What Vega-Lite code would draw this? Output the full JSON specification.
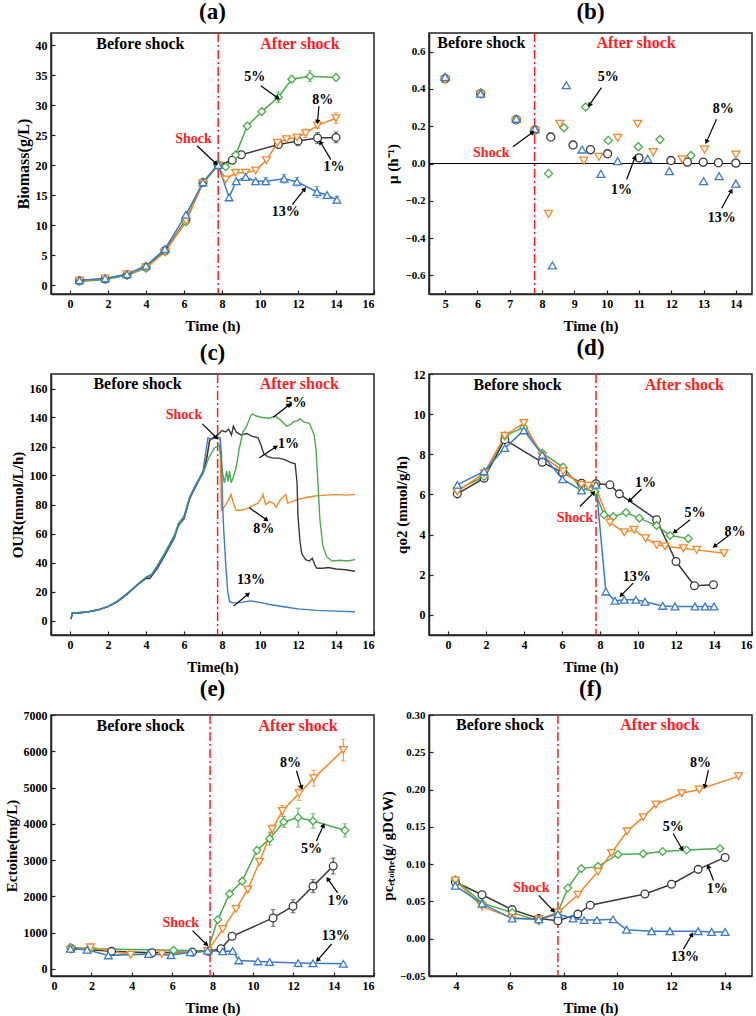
{
"$schema": "https://vega.github.io/schema/vega-lite/v6.json",
"padding": {"left": 3, "top": 0, "right": 2, "bottom": 2},
"background": "white",
"bounds": "flush",
"columns": 2,
"spacing": {"row": 80, "column": 55},
"datasets": {
"a": [
{"s":"1%","x":0.5,"y":0.7},{"s":"1%","x":1.85,"y":1.0},{"s":"1%","x":3,"y":1.7},{"s":"1%","x":4,"y":3.0},{"s":"1%","x":5,"y":5.7},{"s":"1%","x":6.1,"y":10.8},{"s":"1%","x":7,"y":17.1},{"s":"1%","x":7.8,"y":20.0},{"s":"1%","x":8.54,"y":20.8},{"s":"1%","x":9.02,"y":21.7},{"s":"1%","x":10.97,"y":23.4,"e":0.5},{"s":"1%","x":12.0,"y":24.0,"e":0.8},{"s":"1%","x":13.03,"y":24.5,"e":0.9},{"s":"1%","x":14,"y":24.6,"e":0.9},
{"s":"5%","x":0.5,"y":0.6},{"s":"5%","x":1.85,"y":0.9},{"s":"5%","x":3,"y":1.6},{"s":"5%","x":4,"y":2.8},{"s":"5%","x":5,"y":5.6},{"s":"5%","x":6.1,"y":10.5},{"s":"5%","x":7,"y":17.2},{"s":"5%","x":7.8,"y":20.1},{"s":"5%","x":8.19,"y":19.7},{"s":"5%","x":8.72,"y":21.7},{"s":"5%","x":9.33,"y":26.5},{"s":"5%","x":10.09,"y":28.9},{"s":"5%","x":10.97,"y":31.3,"e":0.9},{"s":"5%","x":11.67,"y":34.3,"e":0.5},{"s":"5%","x":12.63,"y":34.8,"e":0.9},{"s":"5%","x":14,"y":34.6,"e":0.4},
{"s":"8%","x":0.5,"y":0.7},{"s":"8%","x":1.85,"y":1.1},{"s":"8%","x":3,"y":1.8},{"s":"8%","x":4,"y":2.9},{"s":"8%","x":5,"y":5.5},{"s":"8%","x":6.1,"y":10.7},{"s":"8%","x":7,"y":17.0},{"s":"8%","x":7.8,"y":19.9},{"s":"8%","x":8.19,"y":17.6},{"s":"8%","x":8.72,"y":18.7},{"s":"8%","x":9.24,"y":18.7},{"s":"8%","x":9.77,"y":19.1},{"s":"8%","x":10.34,"y":20.8},{"s":"8%","x":10.92,"y":23.7},{"s":"8%","x":11.4,"y":24.3},{"s":"8%","x":11.95,"y":24.6},{"s":"8%","x":12.4,"y":25.3,"e":0.7},{"s":"8%","x":13.03,"y":26.6,"e":0.5},{"s":"8%","x":14,"y":27.8,"e":0.9},
{"s":"13%","x":0.5,"y":0.8},{"s":"13%","x":1.85,"y":1.1},{"s":"13%","x":3,"y":1.8},{"s":"13%","x":4,"y":3.2},{"s":"13%","x":5,"y":6.0},{"s":"13%","x":6.1,"y":11.7},{"s":"13%","x":7,"y":17.1},{"s":"13%","x":7.8,"y":20.0},{"s":"13%","x":8.37,"y":14.6},{"s":"13%","x":8.75,"y":17.3},{"s":"13%","x":9.25,"y":18.0},{"s":"13%","x":9.77,"y":17.3},{"s":"13%","x":10.3,"y":17.3,"e":0.6},{"s":"13%","x":11.27,"y":17.7,"e":0.7},{"s":"13%","x":11.95,"y":17.2,"e":0.7},{"s":"13%","x":13.0,"y":15.5,"e":0.9},{"s":"13%","x":13.53,"y":15.0},{"s":"13%","x":14.05,"y":14.2,"e":0.6}
],
"a_t": [
{"x":3.7,"y":40.2,"t":"Before shock","r":"before"},{"x":12.1,"y":40.2,"t":"After shock","r":"after"},{"x":6.5,"y":24.4,"t":"Shock","r":"shock"},{"x":9.72,"y":34.7,"t":"5%","r":"pct"},{"x":13.3,"y":30.8,"t":"8%","r":"pct"},{"x":13.9,"y":19.6,"t":"1%","r":"pct"},{"x":11.36,"y":12.2,"t":"13%","r":"pct"}
],
"a_a": [
{"x":6.69,"y":23.2,"x2":7.66,"y2":20.3,"ang":133},{"x":10.04,"y":33.2,"x2":10.92,"y2":31.2,"ang":125},{"x":13.1,"y":29.8,"x2":13.03,"y2":27.3,"ang":186},{"x":13.73,"y":20.9,"x2":13.2,"y2":23.7,"ang":-31},{"x":11.7,"y":13.4,"x2":12.32,"y2":15.9,"ang":38}
],
"b": [
{"s":"1%","x":5,"y":0.455},{"s":"1%","x":6.1,"y":0.375},{"s":"1%","x":7.2,"y":0.235},{"s":"1%","x":7.78,"y":0.18},{"s":"1%","x":8.27,"y":0.142},{"s":"1%","x":8.96,"y":0.099},{"s":"1%","x":9.5,"y":0.074},{"s":"1%","x":10.03,"y":0.052},{"s":"1%","x":11.0,"y":0.03},{"s":"1%","x":11.99,"y":0.016},{"s":"1%","x":12.5,"y":0.007},{"s":"1%","x":12.99,"y":0.007},{"s":"1%","x":13.46,"y":0.004},{"s":"1%","x":14.0,"y":0.002},
{"s":"5%","x":5,"y":0.455},{"s":"5%","x":6.1,"y":0.38},{"s":"5%","x":7.2,"y":0.235},{"s":"5%","x":7.78,"y":0.18},{"s":"5%","x":8.2,"y":-0.054},{"s":"5%","x":8.68,"y":0.192},{"s":"5%","x":9.35,"y":0.303},{"s":"5%","x":10.05,"y":0.124},{"s":"5%","x":10.98,"y":0.09},{"s":"5%","x":11.65,"y":0.129},{"s":"5%","x":12.61,"y":0.043},
{"s":"8%","x":5,"y":0.45},{"s":"8%","x":6.1,"y":0.37},{"s":"8%","x":7.2,"y":0.23},{"s":"8%","x":7.78,"y":0.175},{"s":"8%","x":8.2,"y":-0.27},{"s":"8%","x":8.55,"y":0.213},{"s":"8%","x":9.29,"y":0.015},{"s":"8%","x":9.76,"y":0.036},{"s":"8%","x":10.34,"y":0.138},{"s":"8%","x":10.96,"y":0.213},{"s":"8%","x":11.44,"y":0.061},{"s":"8%","x":12.34,"y":0.022},{"s":"8%","x":13.03,"y":0.075},{"s":"8%","x":14.0,"y":0.048},
{"s":"13%","x":5,"y":0.465},{"s":"13%","x":6.1,"y":0.375},{"s":"13%","x":7.2,"y":0.24},{"s":"13%","x":7.78,"y":0.185},{"s":"13%","x":8.32,"y":-0.547},{"s":"13%","x":8.75,"y":0.42},{"s":"13%","x":9.24,"y":0.075},{"s":"13%","x":9.82,"y":-0.056},{"s":"13%","x":10.34,"y":0.013},{"s":"13%","x":11.27,"y":0.025},{"s":"13%","x":11.94,"y":-0.041},{"s":"13%","x":13.0,"y":-0.095},{"s":"13%","x":13.48,"y":-0.068},{"s":"13%","x":14.0,"y":-0.108}
],
"b_t": [
{"x":6.12,"y":0.645,"t":"Before shock","r":"before"},{"x":10.91,"y":0.645,"t":"After shock","r":"after"},{"x":6.43,"y":0.057,"t":"Shock","r":"shock"},{"x":10.05,"y":0.465,"t":"5%","r":"pct"},{"x":13.61,"y":0.29,"t":"8%","r":"pct"},{"x":10.46,"y":-0.14,"t":"1%","r":"pct"},{"x":13.56,"y":-0.29,"t":"13%","r":"pct"}
],
"b_a": [
{"x":7.1,"y":0.09,"x2":7.69,"y2":0.165,"ang":54},{"x":9.84,"y":0.407,"x2":9.48,"y2":0.317,"ang":215},{"x":13.4,"y":0.237,"x2":13.1,"y2":0.12,"ang":205},{"x":10.62,"y":-0.086,"x2":10.87,"y2":0.03,"ang":21},{"x":13.56,"y":-0.24,"x2":13.85,"y2":-0.149,"ang":29}
],
"c": [
{"s":"8%","x":0.05,"y":1},{"s":"8%","x":0.12,"y":5},{"s":"8%","x":0.5,"y":5.5},{"s":"8%","x":1.0,"y":6.2},{"s":"8%","x":1.5,"y":7.5},{"s":"8%","x":2.0,"y":9.5},{"s":"8%","x":2.5,"y":13},{"s":"8%","x":3.0,"y":18.5},{"s":"8%","x":3.5,"y":24},{"s":"8%","x":4.0,"y":29.5},{"s":"8%","x":4.3,"y":31},{"s":"8%","x":4.6,"y":37},{"s":"8%","x":5.0,"y":46},{"s":"8%","x":5.5,"y":58},{"s":"8%","x":5.7,"y":65},{"s":"8%","x":6.0,"y":71},{"s":"8%","x":6.3,"y":85},{"s":"8%","x":6.6,"y":93},{"s":"8%","x":7.0,"y":102},{"s":"8%","x":7.2,"y":113},{"s":"8%","x":7.35,"y":125},{"s":"8%","x":7.6,"y":126},{"s":"8%","x":7.9,"y":125},{"s":"8%","x":7.97,"y":76},{"s":"8%","x":8.1,"y":78},{"s":"8%","x":8.3,"y":82},{"s":"8%","x":8.47,"y":87},{"s":"8%","x":8.6,"y":81},{"s":"8%","x":8.75,"y":76},{"s":"8%","x":9.0,"y":76},{"s":"8%","x":9.3,"y":77},{"s":"8%","x":9.6,"y":79},{"s":"8%","x":9.9,"y":81},{"s":"8%","x":10.1,"y":85},{"s":"8%","x":10.15,"y":87},{"s":"8%","x":10.3,"y":80},{"s":"8%","x":10.5,"y":82},{"s":"8%","x":10.7,"y":81},{"s":"8%","x":10.85,"y":78},{"s":"8%","x":11.0,"y":82},{"s":"8%","x":11.2,"y":85},{"s":"8%","x":11.35,"y":87},{"s":"8%","x":11.45,"y":81},{"s":"8%","x":11.7,"y":82},{"s":"8%","x":12.0,"y":83.5},{"s":"8%","x":12.5,"y":85},{"s":"8%","x":13.0,"y":86},{"s":"8%","x":13.5,"y":86.5},{"s":"8%","x":14.0,"y":87},{"s":"8%","x":14.5,"y":86.5},{"s":"8%","x":15.0,"y":87},
{"s":"1%","x":0.05,"y":1},{"s":"1%","x":0.12,"y":5},{"s":"1%","x":0.5,"y":5.2},{"s":"1%","x":1.0,"y":6},{"s":"1%","x":1.5,"y":7.3},{"s":"1%","x":2.0,"y":9.5},{"s":"1%","x":2.5,"y":13},{"s":"1%","x":3.0,"y":18},{"s":"1%","x":3.5,"y":24},{"s":"1%","x":4.0,"y":29},{"s":"1%","x":4.2,"y":29},{"s":"1%","x":4.6,"y":36},{"s":"1%","x":5.0,"y":45},{"s":"1%","x":5.5,"y":57},{"s":"1%","x":5.7,"y":66},{"s":"1%","x":5.85,"y":68},{"s":"1%","x":6.0,"y":70},{"s":"1%","x":6.3,"y":84},{"s":"1%","x":6.6,"y":92},{"s":"1%","x":7.0,"y":102},{"s":"1%","x":7.2,"y":112},{"s":"1%","x":7.35,"y":124},{"s":"1%","x":7.5,"y":126},{"s":"1%","x":7.7,"y":127},{"s":"1%","x":7.85,"y":129},{"s":"1%","x":8.0,"y":131},{"s":"1%","x":8.2,"y":130},{"s":"1%","x":8.35,"y":132},{"s":"1%","x":8.5,"y":128},{"s":"1%","x":8.6,"y":134},{"s":"1%","x":8.75,"y":130},{"s":"1%","x":9.0,"y":128},{"s":"1%","x":9.3,"y":129},{"s":"1%","x":9.6,"y":127},{"s":"1%","x":9.9,"y":126},{"s":"1%","x":10.05,"y":121},{"s":"1%","x":10.2,"y":115},{"s":"1%","x":10.4,"y":113},{"s":"1%","x":10.7,"y":112},{"s":"1%","x":11.0,"y":112},{"s":"1%","x":11.3,"y":111},{"s":"1%","x":11.6,"y":109},{"s":"1%","x":11.85,"y":108},{"s":"1%","x":11.95,"y":95},{"s":"1%","x":12.0,"y":72},{"s":"1%","x":12.1,"y":55},{"s":"1%","x":12.2,"y":46},{"s":"1%","x":12.4,"y":42},{"s":"1%","x":12.6,"y":41},{"s":"1%","x":12.75,"y":43},{"s":"1%","x":12.9,"y":38},{"s":"1%","x":13.0,"y":36},{"s":"1%","x":13.3,"y":36},{"s":"1%","x":13.6,"y":36.5},{"s":"1%","x":14.0,"y":35.5},{"s":"1%","x":14.5,"y":35},{"s":"1%","x":15.0,"y":34},
{"s":"5%","x":0.05,"y":1},{"s":"5%","x":0.12,"y":5},{"s":"5%","x":0.5,"y":5.5},{"s":"5%","x":1.0,"y":6.2},{"s":"5%","x":1.5,"y":7.6},{"s":"5%","x":2.0,"y":9.8},{"s":"5%","x":2.5,"y":13.5},{"s":"5%","x":3.0,"y":18.5},{"s":"5%","x":3.5,"y":24.5},{"s":"5%","x":4.0,"y":30},{"s":"5%","x":4.3,"y":32},{"s":"5%","x":4.6,"y":38},{"s":"5%","x":5.0,"y":47},{"s":"5%","x":5.5,"y":59},{"s":"5%","x":5.7,"y":67},{"s":"5%","x":6.0,"y":72},{"s":"5%","x":6.3,"y":85},{"s":"5%","x":6.6,"y":93},{"s":"5%","x":7.0,"y":101},{"s":"5%","x":7.3,"y":112},{"s":"5%","x":7.6,"y":119},{"s":"5%","x":7.75,"y":120},{"s":"5%","x":7.85,"y":121},{"s":"5%","x":7.95,"y":112},{"s":"5%","x":8.05,"y":100},{"s":"5%","x":8.12,"y":95},{"s":"5%","x":8.25,"y":103},{"s":"5%","x":8.32,"y":96},{"s":"5%","x":8.4,"y":103},{"s":"5%","x":8.48,"y":95},{"s":"5%","x":8.6,"y":99},{"s":"5%","x":8.75,"y":106},{"s":"5%","x":8.9,"y":118},{"s":"5%","x":9.1,"y":130},{"s":"5%","x":9.3,"y":134},{"s":"5%","x":9.5,"y":141},{"s":"5%","x":9.6,"y":142.5},{"s":"5%","x":9.8,"y":141},{"s":"5%","x":10.1,"y":140},{"s":"5%","x":10.5,"y":139.5},{"s":"5%","x":10.8,"y":141},{"s":"5%","x":11.1,"y":138},{"s":"5%","x":11.4,"y":134},{"s":"5%","x":11.6,"y":135},{"s":"5%","x":11.75,"y":137},{"s":"5%","x":12.0,"y":138},{"s":"5%","x":12.1,"y":139},{"s":"5%","x":12.3,"y":137},{"s":"5%","x":12.6,"y":136},{"s":"5%","x":12.85,"y":128},{"s":"5%","x":12.95,"y":118},{"s":"5%","x":13.05,"y":95},{"s":"5%","x":13.15,"y":70},{"s":"5%","x":13.3,"y":52},{"s":"5%","x":13.5,"y":44},{"s":"5%","x":13.8,"y":41},{"s":"5%","x":14.2,"y":41.5},{"s":"5%","x":14.6,"y":41},{"s":"5%","x":15.0,"y":42},
{"s":"13%","x":0.05,"y":1},{"s":"13%","x":0.12,"y":5},{"s":"13%","x":0.5,"y":5.3},{"s":"13%","x":1.0,"y":6},{"s":"13%","x":1.5,"y":7.4},{"s":"13%","x":2.0,"y":9.5},{"s":"13%","x":2.5,"y":13},{"s":"13%","x":3.0,"y":18.5},{"s":"13%","x":3.5,"y":24},{"s":"13%","x":4.0,"y":29.5},{"s":"13%","x":4.3,"y":31.5},{"s":"13%","x":4.6,"y":37},{"s":"13%","x":5.0,"y":46},{"s":"13%","x":5.5,"y":58},{"s":"13%","x":5.7,"y":65},{"s":"13%","x":6.0,"y":71},{"s":"13%","x":6.3,"y":85},{"s":"13%","x":6.6,"y":93},{"s":"13%","x":7.0,"y":103},{"s":"13%","x":7.26,"y":126},{"s":"13%","x":7.5,"y":125},{"s":"13%","x":7.6,"y":127},{"s":"13%","x":7.9,"y":126},{"s":"13%","x":7.97,"y":115},{"s":"13%","x":8.03,"y":80},{"s":"13%","x":8.1,"y":60},{"s":"13%","x":8.2,"y":38},{"s":"13%","x":8.3,"y":20},{"s":"13%","x":8.4,"y":13},{"s":"13%","x":8.6,"y":12},{"s":"13%","x":9.0,"y":12.5},{"s":"13%","x":9.5,"y":13.5},{"s":"13%","x":10.0,"y":12.5},{"s":"13%","x":10.5,"y":11},{"s":"13%","x":11.0,"y":10},{"s":"13%","x":11.5,"y":9},{"s":"13%","x":12.0,"y":8},{"s":"13%","x":12.5,"y":7.5},{"s":"13%","x":13.0,"y":7},{"s":"13%","x":14.0,"y":6.5},{"s":"13%","x":15.0,"y":6}
],
"c_t": [
{"x":3.55,"y":163.4,"t":"Before shock","r":"before"},{"x":12.07,"y":163.4,"t":"After shock","r":"after"},{"x":6.0,"y":142,"t":"Shock","r":"shock"},{"x":11.9,"y":150,"t":"5%","r":"pct"},{"x":11.5,"y":121.4,"t":"1%","r":"pct"},{"x":10.2,"y":62.8,"t":"8%","r":"pct"},{"x":9.53,"y":27.6,"t":"13%","r":"pct"}
],
"c_a": [
{"x":6.97,"y":135.6,"x2":7.68,"y2":126.4,"ang":135},{"x":10.7,"y":140.2,"x2":11.51,"y2":148.5,"ang":52},{"x":9.97,"y":112.2,"x2":10.81,"y2":119.5,"ang":56},{"x":9.44,"y":77.7,"x2":10.32,"y2":69.7,"ang":125},{"x":8.61,"y":9.9,"x2":9.35,"y2":17.9,"ang":50}
],
"d": [
{"s":"1%","x":0.49,"y":6.03},{"s":"1%","x":1.9,"y":6.81},{"s":"1%","x":2.99,"y":8.73},{"s":"1%","x":4.96,"y":7.6},{"s":"1%","x":6.03,"y":7.1},{"s":"1%","x":7.03,"y":6.56},{"s":"1%","x":7.79,"y":6.53},{"s":"1%","x":8.52,"y":6.48},{"s":"1%","x":9.02,"y":6.03},{"s":"1%","x":10.98,"y":4.74},{"s":"1%","x":12.0,"y":2.66},{"s":"1%","x":12.97,"y":1.45},{"s":"1%","x":13.97,"y":1.5},
{"s":"5%","x":0.49,"y":6.23},{"s":"5%","x":1.9,"y":6.9},{"s":"5%","x":2.99,"y":8.92},{"s":"5%","x":3.99,"y":9.34},{"s":"5%","x":4.96,"y":8.06},{"s":"5%","x":6.06,"y":7.36},{"s":"5%","x":7.03,"y":6.3},{"s":"5%","x":7.73,"y":6.15},{"s":"5%","x":8.21,"y":4.99},{"s":"5%","x":8.7,"y":4.9},{"s":"5%","x":9.37,"y":5.1},{"s":"5%","x":10.07,"y":4.82},{"s":"5%","x":10.98,"y":4.45},{"s":"5%","x":11.69,"y":3.96},{"s":"5%","x":12.65,"y":3.8},
{"s":"8%","x":0.49,"y":6.15},{"s":"8%","x":1.9,"y":7.06},{"s":"8%","x":2.99,"y":8.92},{"s":"8%","x":3.99,"y":9.56},{"s":"8%","x":4.96,"y":7.93},{"s":"8%","x":6.06,"y":7.15},{"s":"8%","x":7.03,"y":6.48},{"s":"8%","x":7.38,"y":6.43},{"s":"8%","x":7.73,"y":6.43},{"s":"8%","x":8.52,"y":4.6},{"s":"8%","x":9.28,"y":4.12},{"s":"8%","x":9.79,"y":4.24},{"s":"8%","x":10.4,"y":3.82},{"s":"8%","x":10.98,"y":3.49},{"s":"8%","x":11.42,"y":3.41},{"s":"8%","x":12.39,"y":3.32},{"s":"8%","x":13.09,"y":3.24},{"s":"8%","x":14.53,"y":3.07},
{"s":"13%","x":0.49,"y":6.48},{"s":"13%","x":1.9,"y":7.15},{"s":"13%","x":2.99,"y":8.31},{"s":"13%","x":3.99,"y":9.19},{"s":"13%","x":4.96,"y":7.98},{"s":"13%","x":6.03,"y":6.76},{"s":"13%","x":7.03,"y":6.2},{"s":"13%","x":7.79,"y":6.48},{"s":"13%","x":8.31,"y":1.16},{"s":"13%","x":8.79,"y":0.7},{"s":"13%","x":9.28,"y":0.75},{"s":"13%","x":9.89,"y":0.75},{"s":"13%","x":10.37,"y":0.66},{"s":"13%","x":11.3,"y":0.45},{"s":"13%","x":11.95,"y":0.42},{"s":"13%","x":13.0,"y":0.42},{"s":"13%","x":13.53,"y":0.42},{"s":"13%","x":14.0,"y":0.42}
],
"d_t": [
{"x":3.66,"y":11.47,"t":"Before shock","r":"before"},{"x":12.44,"y":11.47,"t":"After shock","r":"after"},{"x":6.68,"y":4.82,"t":"Shock","r":"shock"},{"x":10.4,"y":6.56,"t":"1%","r":"pct"},{"x":13.0,"y":5.1,"t":"5%","r":"pct"},{"x":15.11,"y":4.12,"t":"8%","r":"pct"},{"x":9.93,"y":1.91,"t":"13%","r":"pct"}
],
"d_a": [
{"x":6.94,"y":5.4,"x2":7.64,"y2":6.07,"ang":45},{"x":10.19,"y":6.27,"x2":9.58,"y2":5.71,"ang":226},{"x":12.74,"y":4.74,"x2":11.95,"y2":4.15,"ang":232},{"x":14.76,"y":3.94,"x2":14.06,"y2":3.44,"ang":233},{"x":9.75,"y":1.58,"x2":9.14,"y2":1.0,"ang":225}
],
"e": [
{"s":"1%","x":1,"y":560},{"s":"1%","x":3,"y":480},{"s":"1%","x":5,"y":440},{"s":"1%","x":7,"y":460},{"s":"1%","x":7.8,"y":480},{"s":"1%","x":8.42,"y":553},{"s":"1%","x":8.97,"y":895},{"s":"1%","x":11.0,"y":1402,"e":230},{"s":"1%","x":11.99,"y":1725,"e":180},{"s":"1%","x":12.98,"y":2279,"e":180},{"s":"1%","x":13.98,"y":2832,"e":220},
{"s":"5%","x":0.96,"y":590},{"s":"5%","x":1.96,"y":553},{"s":"5%","x":6.07,"y":507},{"s":"5%","x":7.76,"y":495},{"s":"5%","x":8.26,"y":1356},{"s":"5%","x":8.84,"y":2066},{"s":"5%","x":9.47,"y":2417},{"s":"5%","x":10.2,"y":3266},{"s":"5%","x":10.83,"y":3589,"e":180},{"s":"5%","x":11.53,"y":4050,"e":150},{"s":"5%","x":12.24,"y":4170,"e":260},{"s":"5%","x":12.98,"y":4077,"e":200},{"s":"5%","x":14.56,"y":3819,"e":180},
{"s":"8%","x":0.96,"y":526},{"s":"8%","x":1.96,"y":590},{"s":"8%","x":3.95,"y":387},{"s":"8%","x":5.49,"y":406},{"s":"8%","x":7.76,"y":490},{"s":"8%","x":8.51,"y":1098},{"s":"8%","x":9.17,"y":1651},{"s":"8%","x":9.75,"y":2186},{"s":"8%","x":10.33,"y":2952},{"s":"8%","x":10.96,"y":3847,"e":120},{"s":"8%","x":11.46,"y":4354,"e":150},{"s":"8%","x":12.29,"y":4843,"e":200},{"s":"8%","x":13.02,"y":5258,"e":220},{"s":"8%","x":14.48,"y":6033,"e":300},
{"s":"13%","x":0.96,"y":553},{"s":"13%","x":1.79,"y":526},{"s":"13%","x":2.84,"y":369},{"s":"13%","x":4.83,"y":406},{"s":"13%","x":5.94,"y":375},{"s":"13%","x":6.9,"y":452},{"s":"13%","x":7.76,"y":498},{"s":"13%","x":8.51,"y":480},{"s":"13%","x":9.0,"y":490},{"s":"13%","x":9.3,"y":230},{"s":"13%","x":10.25,"y":203},{"s":"13%","x":10.83,"y":184},{"s":"13%","x":12.24,"y":157},{"s":"13%","x":12.98,"y":150},{"s":"13%","x":14.48,"y":135}
],
"e_t": [
{"x":4.44,"y":6688,"t":"Before shock","r":"before"},{"x":12.24,"y":6688,"t":"After shock","r":"after"},{"x":6.43,"y":1264,"t":"Shock","r":"shock"},{"x":11.86,"y":5673,"t":"8%","r":"pct"},{"x":12.9,"y":3312,"t":"5%","r":"pct"},{"x":14.23,"y":1863,"t":"1%","r":"pct"},{"x":14.11,"y":913,"t":"13%","r":"pct"}
],
"e_a": [
{"x":7.01,"y":1052,"x2":7.68,"y2":683,"ang":135},{"x":12.16,"y":5461,"x2":12.4,"y2":5018,"ang":163},{"x":13.15,"y":3524,"x2":13.48,"y2":3939,"ang":24},{"x":14.2,"y":2094,"x2":13.73,"y2":2463,"ang":-35},{"x":13.9,"y":683,"x2":13.23,"y2":249,"ang":220}
],
"f": [
{"s":"1%","x":3.98,"y":0.076},{"s":"1%","x":4.97,"y":0.059},{"s":"1%","x":6.09,"y":0.039},{"s":"1%","x":7.08,"y":0.027},{"s":"1%","x":7.79,"y":0.024},{"s":"1%","x":8.53,"y":0.033},{"s":"1%","x":8.99,"y":0.045},{"s":"1%","x":11.02,"y":0.06},{"s":"1%","x":12.01,"y":0.073},{"s":"1%","x":13.0,"y":0.093},{"s":"1%","x":14.0,"y":0.109},
{"s":"5%","x":3.98,"y":0.079},{"s":"5%","x":4.97,"y":0.048},{"s":"5%","x":6.09,"y":0.035},{"s":"5%","x":7.08,"y":0.024},{"s":"5%","x":7.79,"y":0.036},{"s":"5%","x":8.16,"y":0.068},{"s":"5%","x":8.66,"y":0.094},{"s":"5%","x":9.28,"y":0.097},{"s":"5%","x":10.02,"y":0.113},{"s":"5%","x":10.96,"y":0.114},{"s":"5%","x":11.68,"y":0.117},{"s":"5%","x":12.57,"y":0.119},{"s":"5%","x":13.81,"y":0.121},
{"s":"8%","x":3.98,"y":0.078},{"s":"8%","x":4.97,"y":0.043},{"s":"8%","x":6.09,"y":0.028},{"s":"8%","x":7.08,"y":0.026},{"s":"8%","x":7.79,"y":0.035},{"s":"8%","x":8.53,"y":0.059},{"s":"8%","x":9.28,"y":0.09},{"s":"8%","x":9.78,"y":0.115},{"s":"8%","x":10.36,"y":0.144},{"s":"8%","x":10.96,"y":0.163},{"s":"8%","x":11.43,"y":0.18},{"s":"8%","x":12.39,"y":0.195},{"s":"8%","x":13.04,"y":0.2},{"s":"8%","x":14.5,"y":0.218},
{"s":"13%","x":3.98,"y":0.071},{"s":"13%","x":4.97,"y":0.047},{"s":"13%","x":6.09,"y":0.027},{"s":"13%","x":7.08,"y":0.026},{"s":"13%","x":7.79,"y":0.033},{"s":"13%","x":8.35,"y":0.027},{"s":"13%","x":8.76,"y":0.025},{"s":"13%","x":9.24,"y":0.025},{"s":"13%","x":9.84,"y":0.026},{"s":"13%","x":10.34,"y":0.012},{"s":"13%","x":11.27,"y":0.01},{"s":"13%","x":11.95,"y":0.01},{"s":"13%","x":13.0,"y":0.01},{"s":"13%","x":13.5,"y":0.009},{"s":"13%","x":14.0,"y":0.009}
],
"f_t": [
{"x":5.64,"y":0.287,"t":"Before shock","r":"before"},{"x":11.58,"y":0.287,"t":"After shock","r":"after"},{"x":6.8,"y":0.068,"t":"Shock","r":"shock"},{"x":13.09,"y":0.236,"t":"8%","r":"pct"},{"x":12.07,"y":0.15,"t":"5%","r":"pct"},{"x":13.71,"y":0.067,"t":"1%","r":"pct"},{"x":12.51,"y":-0.024,"t":"13%","r":"pct"}
],
"f_a": [
{"x":7.08,"y":0.058,"x2":7.6,"y2":0.038,"ang":137},{"x":13.38,"y":0.226,"x2":13.25,"y2":0.205,"ang":192},{"x":12.07,"y":0.141,"x2":12.39,"y2":0.121,"ang":151},{"x":13.57,"y":0.078,"x2":13.38,"y2":0.096,"ang":-21},{"x":12.45,"y":-0.014,"x2":12.76,"y2":0.005,"ang":31}
]
},
"concat": [
{"width": 323, "height": 261, "title": "(a)",
 "layer": [
  {"data": {"values": [{"x": 7.8}]}, "mark": {"type": "rule", "color": "#ff1e1e", "strokeWidth": 1.5, "strokeDash": [9, 3, 2, 3]}, "encoding": {"x": {"field": "x", "type": "quantitative"}}},
  {"data": {"name": "a"}, "mark": {"type": "line", "strokeWidth": 1.5},
   "encoding": {
    "x": {"field": "x", "type": "quantitative", "scale": {"domain": [-1, 16], "nice": false, "zero": false}, "axis": {"values": [0,2,4,6,8,10,12,14,16], "tickCount": 30, "format": "d", "title": "Time (h)"}},
    "y": {"field": "y", "type": "quantitative", "scale": {"domain": [-1.5, 42], "nice": false, "zero": false}, "axis": {"values": [0,5,10,15,20,25,30,35,40], "tickCount": 30, "format": "d", "title": "Biomass(g/L)", "titleFontSize": 16}},
    "color": {"field": "s", "type": "nominal", "scale": {"domain": ["1%","5%","8%","13%"], "range": ["#3a3a3a","#4bac4b","#f5872b","#3b7bc8"]}, "legend": null}}},
  {"data": {"name": "a"}, "transform": [{"filter": "datum.e > 0"}], "mark": {"type": "errorbar", "ticks": true, "thickness": 1},
   "encoding": {"x": {"field": "x", "type": "quantitative"}, "y": {"field": "y", "type": "quantitative", "title": "Biomass(g/L)"}, "yError": {"field": "e"}, "color": {"field": "s", "type": "nominal", "legend": null}}},
  {"data": {"name": "a"}, "mark": {"type": "point", "filled": false, "fill": "white", "size": 60, "strokeWidth": 1.3, "opacity": 1},
   "encoding": {"x": {"field": "x", "type": "quantitative"}, "y": {"field": "y", "type": "quantitative"}, "color": {"field": "s", "type": "nominal", "legend": null}, "shape": {"field": "s", "type": "nominal", "scale": {"domain": ["1%","5%","8%","13%"], "range": ["circle","diamond","triangle-down","triangle-up"]}, "legend": null}}},
  {"data": {"name": "a_t"}, "mark": {"type": "text", "fontWeight": "bold", "baseline": "middle", "align": "center"},
   "encoding": {"x": {"field": "x", "type": "quantitative"}, "y": {"field": "y", "type": "quantitative"}, "text": {"field": "t"}, "color": {"condition": {"test": "datum.r === 'after' || datum.r === 'shock'", "value": "#ff1e1e"}, "value": "#000"}, "size": {"condition": {"test": "datum.r === 'before' || datum.r === 'after'", "value": 16}, "value": 14}}},
  {"data": {"name": "a_a"}, "mark": {"type": "rule", "color": "#000", "strokeWidth": 1.2}, "encoding": {"x": {"field": "x", "type": "quantitative"}, "y": {"field": "y", "type": "quantitative"}, "x2": {"field": "x2"}, "y2": {"field": "y2"}}},
  {"data": {"name": "a_a"}, "mark": {"type": "point", "shape": "triangle", "filled": true, "color": "#000", "size": 28, "opacity": 1}, "encoding": {"x": {"field": "x2", "type": "quantitative"}, "y": {"field": "y2", "type": "quantitative"}, "angle": {"field": "ang", "type": "quantitative", "scale": null}}}
 ]},
{"width": 323, "height": 261, "title": "(b)",
 "layer": [
  {"data": {"values": [{"x": 7.77}]}, "mark": {"type": "rule", "color": "#ff1e1e", "strokeWidth": 1.5, "strokeDash": [9, 3, 2, 3]}, "encoding": {"x": {"field": "x", "type": "quantitative"}}},
  {"data": {"values": [{"y": 0}]}, "mark": {"type": "rule", "color": "#000", "strokeWidth": 1.2}, "encoding": {"y": {"field": "y", "type": "quantitative"}}},
  {"data": {"name": "b"}, "mark": {"type": "point", "filled": false, "fill": "white", "size": 65, "strokeWidth": 1.3, "opacity": 1},
   "encoding": {
    "x": {"field": "x", "type": "quantitative", "scale": {"domain": [4.5, 14.5], "nice": false, "zero": false}, "axis": {"values": [5,6,7,8,9,10,11,12,13,14], "tickCount": 30, "format": "d", "title": "Time (h)"}},
    "y": {"field": "y", "type": "quantitative", "scale": {"domain": [-0.7, 0.7], "nice": false, "zero": false}, "axis": {"values": [-0.6,-0.4,-0.2,0,0.2,0.4,0.6], "tickCount": 30, "format": ".1f", "title": "μ (h⁻¹)", "labelFontSize": 11}},
    "color": {"field": "s", "type": "nominal", "scale": {"domain": ["1%","5%","8%","13%"], "range": ["#3a3a3a","#1e8a1e","#f5872b","#3b7bc8"]}, "legend": null},
    "shape": {"field": "s", "type": "nominal", "scale": {"domain": ["1%","5%","8%","13%"], "range": ["circle","diamond","triangle-down","triangle-up"]}, "legend": null}}},
  {"data": {"name": "b_t"}, "mark": {"type": "text", "fontWeight": "bold", "baseline": "middle", "align": "center"},
   "encoding": {"x": {"field": "x", "type": "quantitative"}, "y": {"field": "y", "type": "quantitative"}, "text": {"field": "t"}, "color": {"condition": {"test": "datum.r === 'after' || datum.r === 'shock'", "value": "#ff1e1e"}, "value": "#000"}, "size": {"condition": {"test": "datum.r === 'before' || datum.r === 'after'", "value": 16}, "value": 14}}},
  {"data": {"name": "b_a"}, "mark": {"type": "rule", "color": "#000", "strokeWidth": 1.2}, "encoding": {"x": {"field": "x", "type": "quantitative"}, "y": {"field": "y", "type": "quantitative"}, "x2": {"field": "x2"}, "y2": {"field": "y2"}}},
  {"data": {"name": "b_a"}, "mark": {"type": "point", "shape": "triangle", "filled": true, "color": "#000", "size": 28, "opacity": 1}, "encoding": {"x": {"field": "x2", "type": "quantitative"}, "y": {"field": "y2", "type": "quantitative"}, "angle": {"field": "ang", "type": "quantitative", "scale": null}}}
 ]},
{"width": 323, "height": 261, "title": "(c)",
 "layer": [
  {"data": {"values": [{"x": 7.77}]}, "mark": {"type": "rule", "color": "#ff1e1e", "strokeWidth": 1.5, "strokeDash": [9, 3, 2, 3]}, "encoding": {"x": {"field": "x", "type": "quantitative"}}},
  {"data": {"name": "c"}, "mark": {"type": "line", "strokeWidth": 1.4},
   "encoding": {
    "x": {"field": "x", "type": "quantitative", "scale": {"domain": [-1, 16], "nice": false, "zero": false}, "axis": {"values": [0,2,4,6,8,10,12,14,16], "tickCount": 30, "format": "d", "title": "Time(h)"}},
    "y": {"field": "y", "type": "quantitative", "scale": {"domain": [-10, 170], "nice": false, "zero": false}, "axis": {"values": [0,20,40,60,80,100,120,140,160], "tickCount": 30, "format": "d", "title": "OUR(mmol/L/h)"}},
    "color": {"field": "s", "type": "nominal", "scale": {"domain": ["8%","1%","5%","13%"], "range": ["#f5872b","#3a3a3a","#2b8a2b","#3b7bc8"]}, "legend": null}}},
  {"data": {"name": "c_t"}, "mark": {"type": "text", "fontWeight": "bold", "baseline": "middle", "align": "center"},
   "encoding": {"x": {"field": "x", "type": "quantitative"}, "y": {"field": "y", "type": "quantitative"}, "text": {"field": "t"}, "color": {"condition": {"test": "datum.r === 'after' || datum.r === 'shock'", "value": "#ff1e1e"}, "value": "#000"}, "size": {"condition": {"test": "datum.r === 'before' || datum.r === 'after'", "value": 16}, "value": 14}}},
  {"data": {"name": "c_a"}, "mark": {"type": "rule", "color": "#000", "strokeWidth": 1.2}, "encoding": {"x": {"field": "x", "type": "quantitative"}, "y": {"field": "y", "type": "quantitative"}, "x2": {"field": "x2"}, "y2": {"field": "y2"}}},
  {"data": {"name": "c_a"}, "mark": {"type": "point", "shape": "triangle", "filled": true, "color": "#000", "size": 28, "opacity": 1}, "encoding": {"x": {"field": "x2", "type": "quantitative"}, "y": {"field": "y2", "type": "quantitative"}, "angle": {"field": "ang", "type": "quantitative", "scale": null}}}
 ]},
{"width": 323, "height": 261, "title": "(d)",
 "layer": [
  {"data": {"values": [{"x": 7.79}]}, "mark": {"type": "rule", "color": "#ff1e1e", "strokeWidth": 1.5, "strokeDash": [9, 3, 2, 3]}, "encoding": {"x": {"field": "x", "type": "quantitative"}}},
  {"data": {"name": "d"}, "mark": {"type": "line", "strokeWidth": 1.5},
   "encoding": {
    "x": {"field": "x", "type": "quantitative", "scale": {"domain": [-1, 16], "nice": false, "zero": false}, "axis": {"values": [0,2,4,6,8,10,12,14,16], "tickCount": 30, "format": "d", "title": "Time (h)"}},
    "y": {"field": "y", "type": "quantitative", "scale": {"domain": [-1, 12], "nice": false, "zero": false}, "axis": {"values": [0,2,4,6,8,10,12], "tickCount": 30, "format": "d", "title": "qo2 (mmol/g/h)"}},
    "color": {"field": "s", "type": "nominal", "scale": {"domain": ["1%","5%","8%","13%"], "range": ["#3a3a3a","#45a845","#f5872b","#3b7bc8"]}, "legend": null}}},
  {"data": {"name": "d"}, "mark": {"type": "point", "filled": false, "fill": "white", "size": 60, "strokeWidth": 1.3, "opacity": 1},
   "encoding": {"x": {"field": "x", "type": "quantitative"}, "y": {"field": "y", "type": "quantitative"}, "color": {"field": "s", "type": "nominal", "legend": null}, "shape": {"field": "s", "type": "nominal", "scale": {"domain": ["1%","5%","8%","13%"], "range": ["circle","diamond","triangle-down","triangle-up"]}, "legend": null}}},
  {"data": {"name": "d_t"}, "mark": {"type": "text", "fontWeight": "bold", "baseline": "middle", "align": "center"},
   "encoding": {"x": {"field": "x", "type": "quantitative"}, "y": {"field": "y", "type": "quantitative"}, "text": {"field": "t"}, "color": {"condition": {"test": "datum.r === 'after' || datum.r === 'shock'", "value": "#ff1e1e"}, "value": "#000"}, "size": {"condition": {"test": "datum.r === 'before' || datum.r === 'after'", "value": 16}, "value": 14}}},
  {"data": {"name": "d_a"}, "mark": {"type": "rule", "color": "#000", "strokeWidth": 1.2}, "encoding": {"x": {"field": "x", "type": "quantitative"}, "y": {"field": "y", "type": "quantitative"}, "x2": {"field": "x2"}, "y2": {"field": "y2"}}},
  {"data": {"name": "d_a"}, "mark": {"type": "point", "shape": "triangle", "filled": true, "color": "#000", "size": 28, "opacity": 1}, "encoding": {"x": {"field": "x2", "type": "quantitative"}, "y": {"field": "y2", "type": "quantitative"}, "angle": {"field": "ang", "type": "quantitative", "scale": null}}}
 ]},
{"width": 323, "height": 261, "title": "(e)",
 "layer": [
  {"data": {"values": [{"x": 7.88}]}, "mark": {"type": "rule", "color": "#ff1e1e", "strokeWidth": 1.5, "strokeDash": [9, 3, 2, 3]}, "encoding": {"x": {"field": "x", "type": "quantitative"}}},
  {"data": {"name": "e"}, "mark": {"type": "line", "strokeWidth": 1.5},
   "encoding": {
    "x": {"field": "x", "type": "quantitative", "scale": {"domain": [0, 16], "nice": false, "zero": false}, "axis": {"values": [0,2,4,6,8,10,12,14,16], "tickCount": 30, "format": "d", "title": "Time (h)"}},
    "y": {"field": "y", "type": "quantitative", "scale": {"domain": [-200, 7000], "nice": false, "zero": false}, "axis": {"values": [0,1000,2000,3000,4000,5000,6000,7000], "tickCount": 30, "format": "d", "title": "Ectoine(mg/L)"}},
    "color": {"field": "s", "type": "nominal", "scale": {"domain": ["1%","5%","8%","13%"], "range": ["#3a3a3a","#2a8a2a","#f5872b","#3b7bc8"]}, "legend": null}}},
  {"data": {"name": "e"}, "transform": [{"filter": "datum.e > 0"}], "mark": {"type": "errorbar", "ticks": true, "thickness": 1},
   "encoding": {"x": {"field": "x", "type": "quantitative"}, "y": {"field": "y", "type": "quantitative", "title": "Ectoine(mg/L)"}, "yError": {"field": "e"}, "color": {"field": "s", "type": "nominal", "legend": null}}},
  {"data": {"name": "e"}, "mark": {"type": "point", "filled": false, "fill": "white", "size": 60, "strokeWidth": 1.3, "opacity": 1},
   "encoding": {"x": {"field": "x", "type": "quantitative"}, "y": {"field": "y", "type": "quantitative"}, "color": {"field": "s", "type": "nominal", "legend": null}, "shape": {"field": "s", "type": "nominal", "scale": {"domain": ["1%","5%","8%","13%"], "range": ["circle","diamond","triangle-down","triangle-up"]}, "legend": null}}},
  {"data": {"name": "e_t"}, "mark": {"type": "text", "fontWeight": "bold", "baseline": "middle", "align": "center"},
   "encoding": {"x": {"field": "x", "type": "quantitative"}, "y": {"field": "y", "type": "quantitative"}, "text": {"field": "t"}, "color": {"condition": {"test": "datum.r === 'after' || datum.r === 'shock'", "value": "#ff1e1e"}, "value": "#000"}, "size": {"condition": {"test": "datum.r === 'before' || datum.r === 'after'", "value": 16}, "value": 14}}},
  {"data": {"name": "e_a"}, "mark": {"type": "rule", "color": "#000", "strokeWidth": 1.2}, "encoding": {"x": {"field": "x", "type": "quantitative"}, "y": {"field": "y", "type": "quantitative"}, "x2": {"field": "x2"}, "y2": {"field": "y2"}}},
  {"data": {"name": "e_a"}, "mark": {"type": "point", "shape": "triangle", "filled": true, "color": "#000", "size": 28, "opacity": 1}, "encoding": {"x": {"field": "x2", "type": "quantitative"}, "y": {"field": "y2", "type": "quantitative"}, "angle": {"field": "ang", "type": "quantitative", "scale": null}}}
 ]},
{"width": 323, "height": 261, "title": "(f)",
 "layer": [
  {"data": {"values": [{"x": 7.79}]}, "mark": {"type": "rule", "color": "#ff1e1e", "strokeWidth": 1.5, "strokeDash": [9, 3, 2, 3]}, "encoding": {"x": {"field": "x", "type": "quantitative"}}},
  {"data": {"name": "f"}, "mark": {"type": "line", "strokeWidth": 1.5},
   "encoding": {
    "x": {"field": "x", "type": "quantitative", "scale": {"domain": [3, 15], "nice": false, "zero": false}, "axis": {"values": [4,6,8,10,12,14], "tickCount": 30, "format": "d", "title": "Time (h)"}},
    "y": {"field": "y", "type": "quantitative", "scale": {"domain": [-0.05, 0.3], "nice": false, "zero": false}, "axis": {"values": [-0.05,0,0.05,0.1,0.15,0.2,0.25,0.3], "tickCount": 30, "format": ".2f", "title": "pcₑₜₒᵢₙₑ(g/ gDCW)", "labelFontSize": 11}},
    "color": {"field": "s", "type": "nominal", "scale": {"domain": ["1%","5%","8%","13%"], "range": ["#3a3a3a","#45a845","#f5872b","#3b7bc8"]}, "legend": null}}},
  {"data": {"name": "f"}, "mark": {"type": "point", "filled": false, "fill": "white", "size": 60, "strokeWidth": 1.3, "opacity": 1},
   "encoding": {"x": {"field": "x", "type": "quantitative"}, "y": {"field": "y", "type": "quantitative"}, "color": {"field": "s", "type": "nominal", "legend": null}, "shape": {"field": "s", "type": "nominal", "scale": {"domain": ["1%","5%","8%","13%"], "range": ["diamond","triangle-down","circle","triangle-up"]}, "legend": null}}},
  {"data": {"name": "f_t"}, "mark": {"type": "text", "fontWeight": "bold", "baseline": "middle", "align": "center"},
   "encoding": {"x": {"field": "x", "type": "quantitative"}, "y": {"field": "y", "type": "quantitative"}, "text": {"field": "t"}, "color": {"condition": {"test": "datum.r === 'after' || datum.r === 'shock'", "value": "#ff1e1e"}, "value": "#000"}, "size": {"condition": {"test": "datum.r === 'before' || datum.r === 'after'", "value": 16}, "value": 14}}},
  {"data": {"name": "f_a"}, "mark": {"type": "rule", "color": "#000", "strokeWidth": 1.2}, "encoding": {"x": {"field": "x", "type": "quantitative"}, "y": {"field": "y", "type": "quantitative"}, "x2": {"field": "x2"}, "y2": {"field": "y2"}}},
  {"data": {"name": "f_a"}, "mark": {"type": "point", "shape": "triangle", "filled": true, "color": "#000", "size": 28, "opacity": 1}, "encoding": {"x": {"field": "x2", "type": "quantitative"}, "y": {"field": "y2", "type": "quantitative"}, "angle": {"field": "ang", "type": "quantitative", "scale": null}}}
 ]}
],
"config": {
 "font": "Liberation Serif",
 "view": {"stroke": "#222", "strokeWidth": 1.5},
 "axis": {"grid": false, "labelOverlap": false, "labelFont": "Liberation Serif", "labelFontWeight": "bold", "labelFontSize": 12, "labelColor": "#000", "titleFont": "Liberation Serif", "titleFontWeight": "bold", "titleFontSize": 15, "titleColor": "#000", "domainColor": "#222", "domainWidth": 1.5, "tickColor": "#222", "tickWidth": 1.2, "tickSize": -4, "labelPadding": 8, "titlePadding": 4},
 "axisX": {"titlePadding": 9},
 "title": {"font": "Liberation Serif", "fontSize": 23, "fontWeight": "bold", "color": "#000", "anchor": "middle", "frame": "group", "offset": 8, "baseline": "bottom"},
 "text": {"font": "Liberation Serif"}
}
}
